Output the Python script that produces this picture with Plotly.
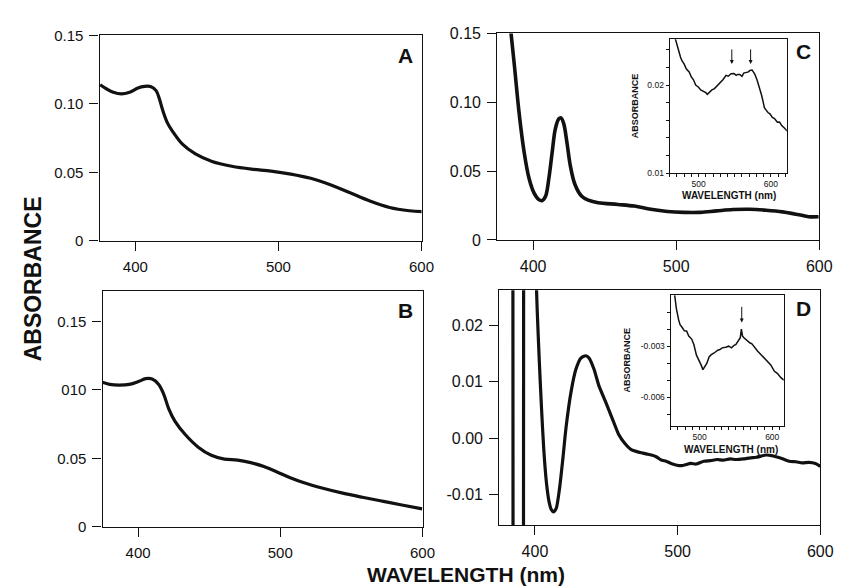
import plotly.graph_objects as go

# ---------------- data ----------------
a_wl = [375.4, 380, 384.6, 390.3, 396, 401.8, 406.4, 411, 414.5, 416.8, 419.1, 422.5, 426, 432.9, 442,
        453.6, 467.4, 481.1, 494.9, 508.7, 522.5, 536.3, 550.1, 563.9, 577.7, 591.5, 600.7]
a_abs = [0.114, 0.1109, 0.1085, 0.1073, 0.1085, 0.1116, 0.1128, 0.1126, 0.1097, 0.1038, 0.0955, 0.086, 0.080,
         0.0706, 0.0635, 0.058, 0.0545, 0.0524, 0.051, 0.0488, 0.0457, 0.041, 0.0351, 0.0291, 0.0244, 0.022, 0.0213]

b_wl = [374.8, 380, 386.8, 393.8, 400.7, 405.3, 409.9, 414.5, 418, 421.5, 426, 433, 442.3, 451.5, 460.7,
        470, 479.2, 488.5, 497.7, 507, 516.2, 530, 543.9, 557.7, 571.6, 585.5, 599.8]
b_abs = [0.1056, 0.104, 0.1035, 0.104, 0.1063, 0.1082, 0.108, 0.104, 0.097, 0.0864, 0.077, 0.0676, 0.0582,
         0.0523, 0.0495, 0.0488, 0.0469, 0.0441, 0.0401, 0.0359, 0.0324, 0.0282, 0.0246, 0.0216, 0.0188, 0.016, 0.0131]

c_wl = [383.5, 384.6, 386.9, 390.3, 393.8, 397.2, 400.7, 404, 406.4, 408.7, 411, 413.3, 415.6, 418, 419.5,
        421.4, 423.7, 426, 429.4, 434, 438.6, 445.5, 459.3, 470.8, 482.3, 493.8, 505.3, 516.8, 528.3, 539.8,
        551.3, 562.8, 574.3, 585.7, 592.6, 599.5]
c_abs = [0.160, 0.150, 0.127, 0.0915, 0.0634, 0.0446, 0.034, 0.0293, 0.0286, 0.0317, 0.0446, 0.0634, 0.081,
         0.088, 0.0887, 0.0845, 0.0704, 0.054, 0.0399, 0.0317, 0.0289, 0.027, 0.0258, 0.0246, 0.0223, 0.0207,
         0.020, 0.020, 0.0211, 0.0221, 0.0223, 0.0216, 0.0204, 0.0183, 0.0169, 0.0169]

# off-scale excursions at the left of panel D
d_spike_wl = [380.0, 384.2, 385.0, 391.6, 392.4, 398.0]
d_spike_abs = [0.2, 0.2, -0.2, -0.2, 0.2, 0.2]

d_wl = [400.6, 401.6, 403, 404.6, 406.2, 408, 409.9, 411.5, 413.1, 415, 417.2, 419.5, 421.8, 425.3, 428.7,
        432.2, 435.6, 437.9, 441.4, 444.8, 449.4, 454, 458.6, 463.2, 467.8, 471.5, 474.7, 478, 481.6, 485,
        488.5, 492, 495.4, 502.3, 509.2, 513, 518.4, 523, 527.6, 532, 536.8, 541, 546, 551, 555.2, 562,
        566, 569, 573, 578.2, 583, 587.4, 592, 596.6, 600]
d_abs = [0.030, 0.0225, 0.0139, 0.0053, -0.0021, -0.0078, -0.0113, -0.0127, -0.0131, -0.0124, -0.009,
         -0.0038, 0.0019, 0.0082, 0.0122, 0.0142, 0.0146, 0.0142, 0.0122, 0.0093, 0.0065, 0.0036, 0.0007,
         -0.001, -0.0021, -0.0024, -0.0026, -0.0028, -0.003, -0.0033, -0.0039, -0.0041, -0.0045, -0.0049,
         -0.0045, -0.0046, -0.0041, -0.0040, -0.0038, -0.0039, -0.0037, -0.0038, -0.0037, -0.0035, -0.0034,
         -0.003, -0.0031, -0.0033, -0.0036, -0.0041, -0.0042, -0.0044, -0.0043, -0.0045, -0.005]

ci_wl = [466, 468, 472, 475, 477, 480, 483, 487, 490, 493, 496, 500, 503, 507, 510, 512, 515, 518.5, 522, 527,
         530, 534, 538, 541, 545, 549, 552, 554, 557, 560, 562.5, 566, 569, 571, 574, 576, 578, 581, 584, 587,
         589, 591, 594, 596, 599, 602, 605, 609, 612, 615, 619, 623]
ci_abs = [0.0258, 0.02515, 0.02386, 0.0232, 0.02276, 0.0224, 0.02184, 0.0215, 0.02092, 0.0206, 0.0200,
          0.01975, 0.01945, 0.0193, 0.01915, 0.01895, 0.0192, 0.01945, 0.0196, 0.0200, 0.0203, 0.02063,
          0.0211, 0.0210, 0.02129, 0.0213, 0.0211, 0.02121, 0.0212, 0.0210, 0.02136, 0.0214, 0.0215, 0.02165,
          0.0217, 0.02147, 0.0212, 0.02055, 0.0198, 0.0189, 0.0182, 0.01743, 0.0171, 0.01688, 0.0167,
          0.01632, 0.0162, 0.01577, 0.0158, 0.0154, 0.0151, 0.01474]
ci_arrows = [546, 572]

di_wl = [465.6, 468, 471, 473, 476, 479, 482, 485, 489, 492, 495.6, 499, 502, 504.5, 507, 510, 513, 516, 520,
         525, 528, 531, 536, 540, 544, 547, 550, 554, 556, 557.5, 559, 561, 563, 566, 569, 572, 576, 580, 583,
         587, 590, 594, 598, 603, 607, 612, 616]
di_abs = [0.0, -0.0008, -0.00144, -0.00173, -0.0019, -0.0021, -0.00211, -0.0024, -0.00258, -0.0029,
          -0.00353, -0.0038, -0.0041, -0.00438, -0.0042, -0.0040, -0.00363, -0.0035, -0.0034, -0.00324,
          -0.0032, -0.0031, -0.00306, -0.0030, -0.0031, -0.00296, -0.0029, -0.00258, -0.0025, -0.0020,
          -0.0024, -0.0025, -0.00258, -0.0027, -0.0028, -0.00286, -0.0031, -0.0033, -0.00343, -0.0036,
          -0.0037, -0.0039, -0.0041, -0.00448, -0.0046, -0.00485, -0.0050]
di_arrows = [558]

W, H = 842, 587


def px_x(a, b):
    return [a / W, b / W]


def px_y(top, bottom):
    return [1 - bottom / H, 1 - top / H]


FONT = "Liberation Sans, Arial, Helvetica, sans-serif"
BLACK = "#111111"

fig = go.Figure()

line_main = dict(color=BLACK, width=3.2)
fig.add_trace(go.Scatter(x=a_wl, y=a_abs, mode="lines", line=dict(shape="spline", **line_main),
                         xaxis="x", yaxis="y", showlegend=False))
fig.add_trace(go.Scatter(x=b_wl, y=b_abs, mode="lines", line=dict(shape="spline", **line_main),
                         xaxis="x2", yaxis="y2", showlegend=False))
fig.add_trace(go.Scatter(x=c_wl, y=c_abs, mode="lines", line=dict(shape="spline", color=BLACK, width=3.6),
                         xaxis="x3", yaxis="y3", showlegend=False))
fig.add_trace(go.Scatter(x=d_spike_wl, y=d_spike_abs, mode="lines", line=dict(color=BLACK, width=3.2),
                         xaxis="x4", yaxis="y4", showlegend=False))
fig.add_trace(go.Scatter(x=d_wl, y=d_abs, mode="lines", line=dict(shape="spline", smoothing=0.6, color=BLACK, width=3.2),
                         xaxis="x4", yaxis="y4", showlegend=False))
fig.add_trace(go.Scatter(x=ci_wl, y=ci_abs, mode="lines", line=dict(color=BLACK, width=1.5),
                         xaxis="x5", yaxis="y5", showlegend=False))
fig.add_trace(go.Scatter(x=di_wl, y=di_abs, mode="lines", line=dict(color=BLACK, width=1.5),
                         xaxis="x6", yaxis="y6", showlegend=False))


def main_axis(domain, rng, tickvals, ticktext, size, anchor):
    return dict(domain=domain, range=rng, tickvals=tickvals, ticktext=ticktext,
                ticks="outside", ticklen=9, tickwidth=1.2, tickcolor=BLACK, ticklabelstandoff=3,
                showline=True, linecolor=BLACK, linewidth=1.3, mirror=True,
                showgrid=False, zeroline=False, anchor=anchor,
                tickfont=dict(family=FONT, size=size, color=BLACK))


def inset_axis(domain, rng, tickvals, ticktext, anchor):
    return dict(domain=domain, range=rng, tickvals=tickvals, ticktext=ticktext,
                ticks="outside", ticklen=3, tickwidth=1, tickcolor=BLACK, ticklabelstandoff=0,
                showline=True, linecolor=BLACK, linewidth=1.1, mirror=True,
                showgrid=False, zeroline=False, anchor=anchor,
                tickfont=dict(family=FONT, size=8.5, color=BLACK))


wl_ticks = [400, 500, 600]
wl_text = ["400", "500", "600"]

fig.update_layout(
    width=W, height=H, margin=dict(l=0, r=0, t=0, b=0),
    paper_bgcolor="white", plot_bgcolor="white",
    xaxis=main_axis(px_x(93, 420), [375, 600], wl_ticks, wl_text, 15, "y"),
    yaxis=main_axis(px_y(19, 231), [0, 0.15], [0, 0.05, 0.10, 0.15], ["0", "0.05", "0.10", "0.15"], 15, "x"),
    xaxis2=main_axis(px_x(96, 421), [375, 600], wl_ticks, wl_text, 15, "y2"),
    yaxis2=main_axis(px_y(283, 526), [0, 0.172], [0, 0.05, 0.10, 0.15], ["0", "0.05", "010", "0.15"], 15, "x2"),
    xaxis3=main_axis(px_x(497, 824), [375, 600], wl_ticks, wl_text, 16, "y3"),
    yaxis3=main_axis(px_y(17, 230), [0, 0.15], [0, 0.05, 0.10, 0.15], ["0", "0.05", "0.10", "0.15"], 16, "x3"),
    xaxis4=main_axis(px_x(499, 825), [375, 600], wl_ticks, wl_text, 16, "y4"),
    yaxis4=main_axis(px_y(282, 524), [-0.0154, 0.0262], [-0.01, 0.0, 0.01, 0.02],
                     ["-0.01", "0.00", "0.01", "0.02"], 16, "x4"),
    xaxis5=inset_axis(px_x(672, 791), [460, 622], list(range(460, 621, 10)),
                      ["500" if v == 500 else "600" if v == 600 else "" for v in range(460, 621, 10)], "y5"),
    yaxis5=inset_axis(px_y(23, 161), [0.01, 0.0252], [0.010, 0.012, 0.014, 0.016, 0.018, 0.020, 0.022, 0.024],
                      ["0.01", "", "", "", "", "0.02", "", ""], "x5"),
    xaxis6=inset_axis(px_x(673, 788), [460, 616], list(range(460, 611, 10)),
                      ["500" if v == 500 else "600" if v == 600 else "" for v in range(460, 611, 10)], "y6"),
    yaxis6=inset_axis(px_y(287, 422), [-0.0077, 0.0], [-0.007, -0.006, -0.005, -0.004, -0.003, -0.002, -0.001],
                      ["", "-0.006", "", "", "-0.003", "", ""], "x6"),
)

ann = []
for letter, x, y in [("A", 404, 40), ("B", 404, 303), ("C", 808, 36), ("D", 808, 301)]:
    ann.append(dict(text="<b>" + letter + "</b>", x=x / W, y=1 - y / H, xref="paper", yref="paper",
                    showarrow=False, font=dict(family=FONT, size=21, color=BLACK),
                    xanchor="center", yanchor="middle"))
ann.append(dict(text="<b>ABSORBANCE</b>", x=25 / W, y=1 - 270 / H, xref="paper", yref="paper", showarrow=False,
                textangle=-90, font=dict(family=FONT, size=23, color=BLACK), xanchor="center", yanchor="middle"))
ann.append(dict(text="<b>WAVELENGTH (nm)</b>", x=465 / W, y=1 - 575 / H, xref="paper", yref="paper",
                showarrow=False, font=dict(family=FONT, size=21, color=BLACK), xanchor="center", yanchor="middle"))
# inset titles
ann.append(dict(text="<b>ABSORBANCE</b>", x=637 / W, y=1 - 92 / H, xref="paper", yref="paper", showarrow=False,
                textangle=-90, font=dict(family=FONT, size=9, color=BLACK), xanchor="center", yanchor="middle"))
ann.append(dict(text="<b>WAVELENGTH (nm)</b>", x=732 / W, y=1 - 184 / H, xref="paper", yref="paper",
                showarrow=False, font=dict(family=FONT, size=10, color=BLACK), xanchor="center", yanchor="middle"))
ann.append(dict(text="<b>ABSORBANCE</b>", x=629 / W, y=1 - 354 / H, xref="paper", yref="paper", showarrow=False,
                textangle=-90, font=dict(family=FONT, size=9, color=BLACK), xanchor="center", yanchor="middle"))
ann.append(dict(text="<b>WAVELENGTH (nm)</b>", x=734 / W, y=1 - 446 / H, xref="paper", yref="paper",
                showarrow=False, font=dict(family=FONT, size=10, color=BLACK), xanchor="center", yanchor="middle"))
for wl in ci_arrows:
    ann.append(dict(x=wl, y=0.0224, xref="x5", yref="y5", ax=0, ay=-16, showarrow=True, arrowhead=2,
                    arrowsize=0.8, arrowwidth=1, arrowcolor=BLACK, text=""))
for wl in di_arrows:
    ann.append(dict(x=wl, y=-0.0016, xref="x6", yref="y6", ax=0, ay=-17, showarrow=True, arrowhead=2,
                    arrowsize=0.8, arrowwidth=1, arrowcolor=BLACK, text=""))
fig.update_layout(annotations=ann)

fig.write_html("out.html")
